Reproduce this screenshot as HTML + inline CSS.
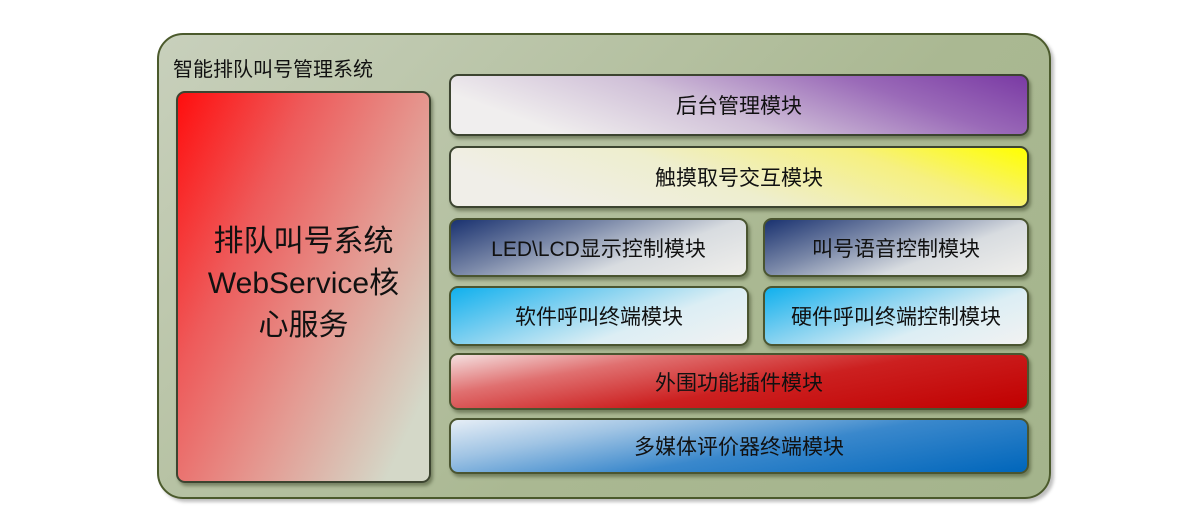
<!DOCTYPE html>
<html><head><meta charset="utf-8"><style>
body{margin:0;width:1200px;height:528px;background:#fff;position:relative;overflow:hidden;font-family:"Liberation Sans","Noto Sans CJK SC",sans-serif;}
.o{position:absolute;left:157px;top:33px;width:890px;height:462px;border:2px solid #4b5a2c;border-radius:26px;background:linear-gradient(135deg,#c8d0bc 0%,#aab892 60%,#a4b48c 100%);box-shadow:3px 3px 3px rgba(0,0,0,.25);}
.t{position:absolute;left:173px;top:53px;font-size:20px;color:#111;}
.b{position:absolute;border:2px solid #3c4430;border-radius:9px;box-sizing:border-box;display:flex;align-items:center;justify-content:center;font-size:21px;color:#111;box-shadow:2px 3px 3px rgba(60,70,40,.5);}
.g{border-color:#4a5530;}
</style></head><body>
<div class="o"></div>
<div class="t">智能排队叫号管理系统</div>
<div class="b" style="left:176px;top:91px;width:255px;height:392px;background:linear-gradient(115deg,#ff0e0e 0%,#ee5a5a 30%,#e49a92 60%,#d4d8c8 90%);font-size:30px;line-height:42px;text-align:center;padding-bottom:6px">排队叫号系统<br>WebService核<br>心服务</div>
<div class="b" style="left:449px;top:74px;width:580px;height:62px;background:linear-gradient(200deg,#7a3aa4 0%,#9a6ab8 25%,#d0c0d8 55%,#f0eeee 85%);">后台管理模块</div>
<div class="b" style="left:449px;top:146px;width:580px;height:62px;background:linear-gradient(200deg,#ffff00 0%,#f6f080 25%,#eeeece 55%,#f0eee8 85%);">触摸取号交互模块</div>
<div class="b g" style="left:449px;top:218px;width:299px;height:59px;background:linear-gradient(160deg,#1a3270 0%,#7a88a8 35%,#d8dce0 65%,#f0efec 100%);">LED\LCD显示控制模块</div>
<div class="b g" style="left:763px;top:218px;width:266px;height:59px;background:linear-gradient(160deg,#1a3270 0%,#7a88a8 35%,#d8dce0 65%,#f0efec 100%);">叫号语音控制模块</div>
<div class="b g" style="left:449px;top:286px;width:300px;height:60px;background:linear-gradient(160deg,#10b0ee 0%,#80d0f0 35%,#dceef4 65%,#f2f2f2 100%);">软件呼叫终端模块</div>
<div class="b g" style="left:763px;top:286px;width:266px;height:60px;background:linear-gradient(160deg,#10b0ee 0%,#80d0f0 35%,#dceef4 65%,#f2f2f2 100%);">硬件呼叫终端控制模块</div>
<div class="b g" style="left:449px;top:353px;width:580px;height:57px;background:linear-gradient(170deg,#f4e0e0 0%,#e07070 25%,#cc2020 55%,#c00000 100%);">外围功能插件模块</div>
<div class="b g" style="left:449px;top:418px;width:580px;height:56px;background:linear-gradient(170deg,#e6eef6 0%,#a0c4e4 25%,#3a88cc 55%,#0066bb 100%);">多媒体评价器终端模块</div>
</body></html>
